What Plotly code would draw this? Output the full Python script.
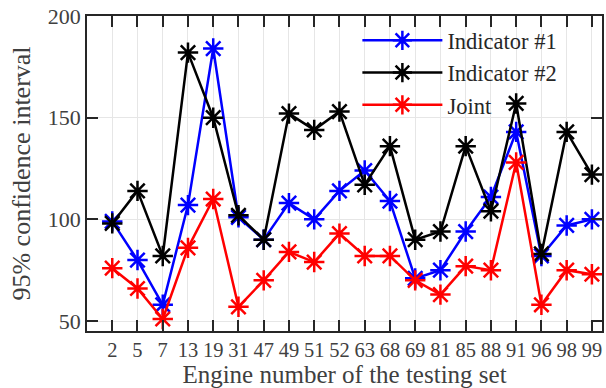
import plotly.graph_objects as go

engines = ["2", "5", "7", "13", "19", "31", "47", "49", "51", "52",
           "63", "68", "69", "81", "85", "88", "91", "96", "98", "99"]
indicator1 = [99, 80, 58, 107, 184, 101, 90, 108, 100, 114,
              124, 109, 71, 75, 94, 111, 143, 82, 97, 100]
indicator2 = [98, 114, 82, 182, 150, 102, 90, 152, 144, 153,
              117, 136, 90, 94, 136, 104, 157, 83, 143, 122]
joint = [76, 66, 51, 86, 110, 57, 70, 84, 79, 93,
         82, 82, 70, 63, 77, 75, 128, 58, 75, 73]

series = [("Indicator #1", indicator1, "#0000ff"),
          ("Indicator #2", indicator2, "#000000"),
          ("Joint", joint, "#ff0000")]

SERIF = "Liberation Serif, Times New Roman, serif"

xs = list(range(len(engines)))
fig = go.Figure()
for name, vals, col in series:
    fig.add_trace(go.Scatter(
        x=xs, y=vals, name=name, mode="lines+markers",
        line=dict(color=col, width=2.5),
        marker=dict(symbol="asterisk-open", size=17,
                    line=dict(color=col, width=2.5), color=col),
    ))

axis_common = dict(
    showline=True, linecolor="#262626", linewidth=1.5, mirror="allticks",
    ticks="inside", ticklen=11, tickcolor="#262626", tickwidth=1.5,
    showgrid=True, gridcolor="#e6e6e6", gridwidth=1, zeroline=False,
)

fig.update_layout(
    width=606, height=388,
    margin=dict(l=87, r=2, t=16, b=57),
    plot_bgcolor="white", paper_bgcolor="white",
    font=dict(family=SERIF),
    showlegend=True,
    legend=dict(x=0.525, y=0.99, xanchor="left", yanchor="top",
                bgcolor="rgba(0,0,0,0)", itemwidth=80,
                font=dict(family=SERIF, size=22.5, color="#262626"),
                tracegroupgap=0),
    xaxis=dict(axis_common, tickmode="array", tickvals=xs, ticktext=engines,
               range=[-1, 19.4],
               tickfont=dict(family=SERIF, size=20.5, color="#404040"),
               title=dict(text="Engine number of the testing set", standoff=3,
                          font=dict(family=SERIF, size=25, color="#404040"))),
    yaxis=dict(axis_common, range=[45.1, 200], tickvals=[50, 100, 150, 200],
               tickfont=dict(family=SERIF, size=22, color="#404040"),
               title=dict(text="95% confidence interval", standoff=10,
                          font=dict(family=SERIF, size=26, color="#404040"))),
)

fig.write_html("out.html")
